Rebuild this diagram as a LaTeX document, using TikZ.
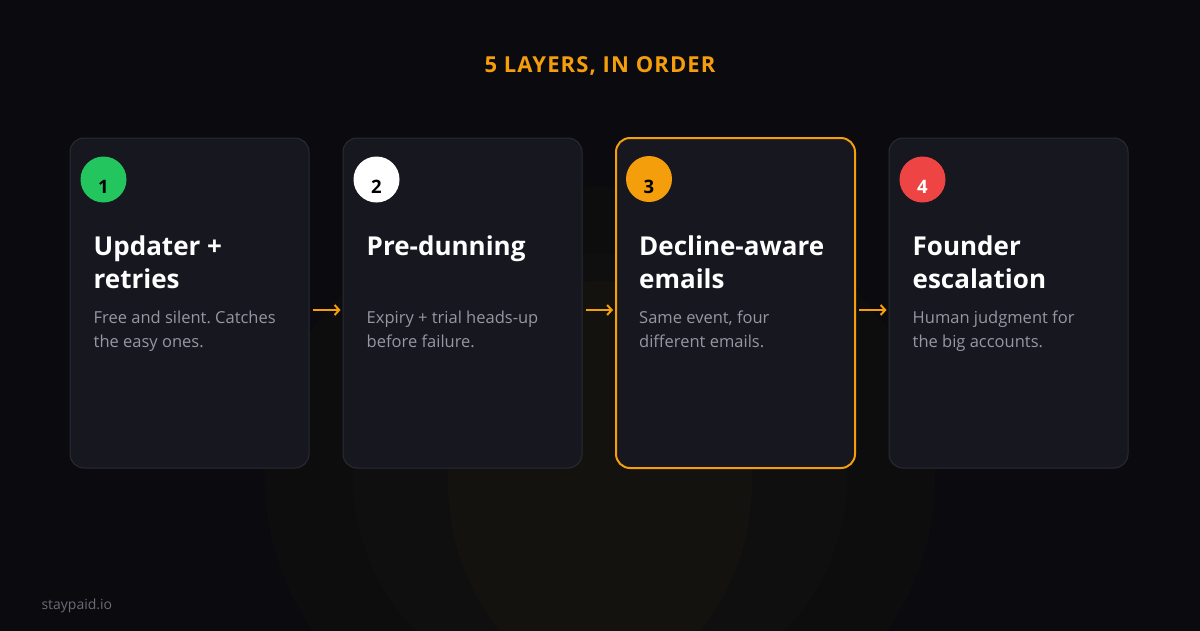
\documentclass[tikz,border=0pt]{standalone}
\usepackage{fontspec}
\setmainfont{Open Sans}
\newfontfamily\spacedfont[LetterSpace=5]{Open Sans}
\frenchspacing
\usetikzlibrary{positioning, arrows.meta}

\definecolor{bg}{HTML}{0A0A0F}
\definecolor{glowA}{HTML}{0D0D0E}
\definecolor{glowB}{HTML}{100F0F}
\definecolor{glowC}{HTML}{14120F}
\definecolor{cardfill}{HTML}{17171F}
\definecolor{cardline}{HTML}{2A2A35}
\definecolor{amber}{HTML}{F59E0B}
\definecolor{leafgreen}{HTML}{22C55E}
\definecolor{alertred}{HTML}{EF4444}
\definecolor{blurbgray}{HTML}{9797A2}
\definecolor{footgray}{HTML}{6B6B75}

\tikzset{
    card/.style={draw=cardline, fill=cardfill, line width=1pt, rounded corners=14pt,
        minimum width=239pt, minimum height=330pt, inner sep=0pt},
    hot/.style={draw=amber, line width=2pt},
    badge/.style={circle, minimum size=46pt, inner sep=0pt, text height=28pt, text depth=0pt,
        font=\bfseries\fontsize{18.5}{18}\selectfont},
    head/.style={text=white, font=\bfseries\fontsize{26}{33}\selectfont, align=left,
        anchor=base west, inner sep=0pt},
    blurb/.style={text=blurbgray, font=\fontsize{16.5}{24}\selectfont, align=left,
        anchor=base west, inner sep=0pt},
    flow/.style={-{Straight Barb[length=4.5pt, width=10pt]}, draw=amber, line width=2pt, shorten <=3pt, shorten >=2pt}
}

\begin{document}
\begin{tikzpicture}[x=1pt, y=-1pt, node distance=273pt, on grid]
                \useasboundingbox (0,0) rectangle (1200,630);

                % BACKGROUND
                \begin{scope}
                    \clip (-5,-5) rectangle (1205,635);
                    \fill[bg] (-5,-5) rectangle (1205,635);
                    \fill[glowA] (600,480) ellipse (335 and 293);
                    \fill[glowB] (600,480) ellipse (247 and 226);
                    \fill[glowC] (600,480) ellipse (152 and 199);
                \end{scope}

                % TITLE
                \node[text=amber, font=\spacedfont\bfseries\fontsize{22}{22}\selectfont, anchor=base] (title) at (600,72) {5 LAYERS, IN ORDER};

                % CARDS
                \node[card] (c1) at (189.5,303) {};
                \node[card] (c2) [right=of c1] {};
                \node[card, hot] (c3) [right=of c2] {};
                \node[card] (c4) [right=of c3] {};

                % BADGES
                \node[badge, fill=leafgreen, text=black] (b1) at ([shift={(34,42)}]c1.north west) {1};
                \node[badge, fill=white, text=black] (b2) at ([shift={(34,42)}]c2.north west) {2};
                \node[badge, fill=amber, text=black] (b3) at ([shift={(34,42)}]c3.north west) {3};
                \node[badge, fill=alertred, text=white] (b4) at ([shift={(34,42)}]c4.north west) {4};

                % HEADINGS (base = last line)
                \node[head] (h1) at ([shift={(24,151)}]c1.north west) {Updater +\\retries};
                \node[head] (h2) at ([shift={(24,118)}]c2.north west) {Pre-dunning};
                \node[head] (h3) at ([shift={(24,151)}]c3.north west) {Decline-aware\\emails};
                \node[head] (h4) at ([shift={(24,151)}]c4.north west) {Founder\\escalation};

                % DESCRIPTIONS
                \node[blurb] (d1) at ([shift={(24,210)}]c1.north west) {Free and silent. Catches\\the easy ones.};
                \node[blurb] (d2) at ([shift={(24,210)}]c2.north west) {Expiry + trial heads-up\\before failure.};
                \node[blurb] (d3) at ([shift={(24,210)}]c3.north west) {Same event, four\\different emails.};
                \node[blurb] (d4) at ([shift={(24,210)}]c4.north west) {Human judgment for\\the big accounts.};

                % ARROWS
                \draw[flow] ([yshift=-7pt] c1.east) -- ([yshift=-7pt] c2.west);
                \draw[flow] ([yshift=-7pt] c2.east) -- ([yshift=-7pt] c3.west);
                \draw[flow] ([yshift=-7pt] c3.east) -- ([yshift=-7pt] c4.west);

                % FOOTER
                \node[text=footgray, font=\fontsize{14}{14}\selectfont, anchor=base west] (foot) at (38,609) {staypaid.io};

            \end{tikzpicture}
\end{document}
